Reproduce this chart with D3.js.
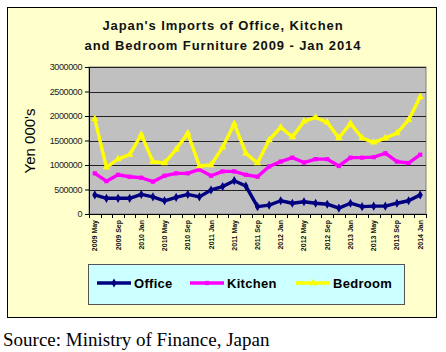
<!DOCTYPE html>
<html><head><meta charset="utf-8">
<script src="https://cdn.jsdelivr.net/npm/d3@7"></script>
<style>body{margin:0;background:#fff;}svg{display:block;}</style>
</head><body>
<script>
const categories = ["2009 May","2009 Jul","2009 Sep","2009 Nov","2010 Jan","2010 Mar","2010 May","2010 Jul","2010 Sep","2010 Nov",
"2011 Jan","2011 Mar","2011 May","2011 Jul","2011 Sep","2011 Nov","2012 Jan","2012 Mar","2012 May","2012 Jul",
"2012 Sep","2012 Nov","2013 Jan","2013 Mar","2013 May","2013 Jul","2013 Sep","2013 Nov","2014 Jan"];
const office = [390000,320000,320000,320000,400000,350000,270000,340000,400000,350000,490000,560000,680000,570000,150000,180000,270000,220000,250000,220000,200000,120000,220000,150000,160000,160000,220000,270000,390000];
const kitchen = [830000,670000,800000,760000,740000,660000,780000,830000,830000,910000,780000,870000,870000,800000,760000,970000,1070000,1150000,1050000,1120000,1120000,980000,1150000,1150000,1160000,1240000,1070000,1040000,1210000];
const bedroom = [1940000,950000,1120000,1210000,1620000,1070000,1040000,1320000,1650000,980000,1000000,1360000,1840000,1240000,1040000,1510000,1770000,1570000,1890000,1970000,1870000,1550000,1850000,1550000,1460000,1550000,1650000,1920000,2390000];
const yTicks = [0,500000,1000000,1500000,2000000,2500000,3000000];
const seriesNames = ["Office","Kitchen","Bedroom"];
const seriesColors = ["#000080","#FF00FF","#FFFF00"];
const sourceText = "Source: Ministry of Finance, Japan";

const W=446,H=352;
const svg=d3.select("body").append("svg").attr("width",W).attr("height",H);
svg.append("rect").attr("x",7.5).attr("y",7.5).attr("width",429).attr("height",310)
  .attr("fill","#FFFFCC").attr("stroke","#000").attr("stroke-width",1);

[["Japan's Imports of Office, Kitchen",30],["and Bedroom Furniture 2009 - Jan 2014",50]].forEach(([t,yy])=>{
  svg.append("text").attr("x",223).attr("y",yy).attr("text-anchor","middle")
    .attr("font-family","Liberation Sans, Arial").attr("font-weight","bold").attr("font-size",13).attr("letter-spacing",0.9)
    .attr("fill","#111").text(t);
});

const pl=89,pr=426,pt=67,pb=214;
const x=d3.scaleBand().domain(categories).range([pl,pr]).padding(0);
const y=d3.scaleLinear().domain([0,3000000]).range([pb,pt]);

svg.append("rect").attr("x",pl).attr("y",pt).attr("width",pr-pl).attr("height",pb-pt)
  .attr("fill","#C0C0C0").attr("stroke","#808080");

svg.append("g").selectAll("line").data(yTicks.slice(1)).join("line")
  .attr("x1",pl).attr("x2",pr).attr("y1",d=>Math.round(y(d))+0.5).attr("y2",d=>Math.round(y(d))+0.5)
  .attr("stroke","#222").attr("stroke-width",1);

const yAxis=svg.append("g").attr("transform",`translate(${pl},0)`)
  .call(d3.axisLeft(y).tickValues(yTicks).tickFormat(d=>String(d)).tickSize(4).tickPadding(3));
yAxis.select(".domain").attr("stroke","#000");
yAxis.selectAll(".tick line").attr("stroke","#000");
yAxis.selectAll("text").attr("font-family","Liberation Sans, Arial").attr("font-size",9).attr("letter-spacing",-0.4).attr("fill","#222");

const xAxisG=svg.append("g");
xAxisG.append("line").attr("x1",pl).attr("x2",pr).attr("y1",pb+0.5).attr("y2",pb+0.5).attr("stroke","#000");
xAxisG.selectAll("line.t").data(categories.concat(["__end"])).join("line").attr("class","t")
  .attr("x1",(d,i)=>Math.round(pl+i*x.step())+0.5).attr("x2",(d,i)=>Math.round(pl+i*x.step())+0.5)
  .attr("y1",pb).attr("y2",pb+4).attr("stroke","#000");
xAxisG.selectAll("text").data(categories.filter((d,i)=>i%2===0)).join("text")
  .attr("transform",d=>`translate(${x(d)+x.bandwidth()/2+2.5},${pb+6}) rotate(-90)`)
  .attr("text-anchor","end").attr("font-family","Liberation Sans, Arial").attr("font-weight","bold").attr("font-size",7)
  .attr("fill","#111").text(d=>d);

svg.append("text").attr("transform","translate(35,141) rotate(-90)").attr("text-anchor","middle")
  .attr("font-family","Liberation Sans, Arial").attr("font-size",15).text("Yen 000's");

const data=[office,kitchen,bedroom];
const line=d3.line().x((d,i)=>x(categories[i])+x.bandwidth()/2).y(d=>y(d));
const sym=[d3.symbolDiamond,d3.symbolSquare,d3.symbolTriangle];
const symSize=[24,18,24];
data.forEach((s,k)=>{
  svg.append("path").datum(s).attr("d",line).attr("fill","none").attr("stroke",seriesColors[k]).attr("stroke-width",3.4).attr("stroke-linejoin","round");
  svg.append("g").selectAll("path").data(s).join("path")
    .attr("transform",(d,i)=>`translate(${x(categories[i])+x.bandwidth()/2},${y(d)})`)
    .attr("d",d3.symbol().type(sym[k]).size(symSize[k])).attr("fill",seriesColors[k]);
});

svg.append("rect").attr("x",88.5).attr("y",264.5).attr("width",316).attr("height",40)
  .attr("fill","#CCFFFF").attr("stroke","#555");
const legX=[97,190,296];
seriesNames.forEach((n,k)=>{
  svg.append("line").attr("x1",legX[k]).attr("x2",legX[k]+34).attr("y1",283).attr("y2",283)
    .attr("stroke",seriesColors[k]).attr("stroke-width",3.4);
  svg.append("path").attr("transform",`translate(${legX[k]+17},283)`).attr("d",d3.symbol().type(sym[k]).size(symSize[k])).attr("fill",seriesColors[k]);
  svg.append("text").attr("x",legX[k]+37).attr("y",288).attr("font-family","Liberation Sans, Arial")
    .attr("font-weight","bold").attr("font-size",13).attr("letter-spacing",0.3).text(n);
});

svg.append("text").attr("x",3).attr("y",346).attr("font-family","Liberation Serif, Times New Roman").attr("font-size",19)
  .text(sourceText);
</script>
</body></html>
